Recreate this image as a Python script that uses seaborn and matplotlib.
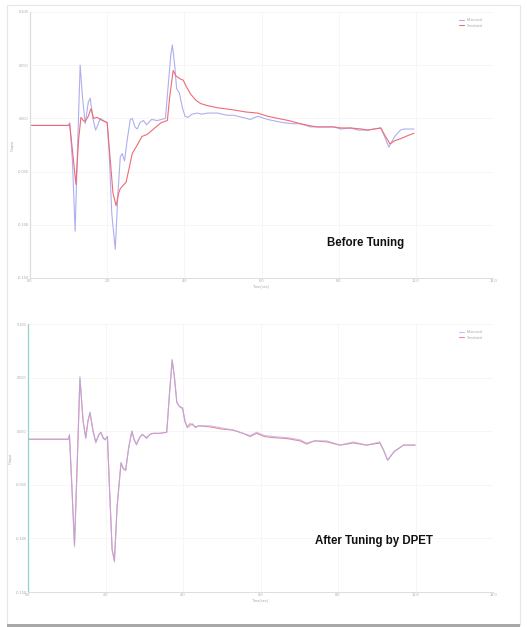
import pandas as pd
import matplotlib
matplotlib.use("Agg")
import matplotlib.pyplot as plt
import seaborn as sns
from matplotlib.patches import Rectangle

sns.set_style("whitegrid")
plt.rcParams['font.family'] = ['Liberation Sans', 'DejaVu Sans']

# Before tuning: measured output
t_before_meas = [0.0, 0.99, 1.03, 1.10, 1.17, 1.23, 1.30, 1.36, 1.43, 1.51, 1.56, 1.63, 1.70, 1.76,
                 1.82, 1.90, 2.00, 2.05, 2.12, 2.21, 2.28, 2.34, 2.39, 2.45, 2.52, 2.60, 2.65, 2.72,
                 2.78, 2.85, 2.94, 3.02, 3.15, 3.30, 3.51, 3.58, 3.65, 3.69, 3.75, 3.80, 3.87, 3.95,
                 4.02, 4.10, 4.20, 4.34, 4.45, 4.60, 4.86, 5.10, 5.27, 5.50, 5.71, 5.90, 6.16, 6.42,
                 6.57, 6.80, 7.01, 7.27, 7.50, 7.87, 8.05, 8.31, 8.50, 8.75, 9.09, 9.20, 9.30, 9.45,
                 9.60, 9.69, 9.95]
y_before_meas = [-0.0066, -0.0066, -0.004, -0.04, -0.106, -0.03, 0.050, 0.02, -0.005, 0.015, 0.019,
                 0.0, -0.011, -0.006, 0.0, -0.002, -0.004, -0.03, -0.09, -0.123, -0.07, -0.036,
                 -0.033, -0.04, -0.02, -0.001, 0.0, -0.008, -0.010, -0.004, -0.002, -0.006, -0.001,
                 -0.002, 0.0, 0.03, 0.06, 0.069, 0.05, 0.028, 0.024, 0.010, 0.002, 0.001, 0.004,
                 0.005, 0.004, 0.005, 0.005, 0.003, 0.003, 0.001, -0.001, 0.002, -0.001, -0.003,
                 -0.004, -0.005, -0.005, -0.008, -0.008, -0.008, -0.010, -0.009, -0.011, -0.011,
                 -0.009, -0.018, -0.027, -0.017, -0.011, -0.010, -0.010]

# Before tuning: simulated output
t_before_sim = [0.0, 0.99, 1.03, 1.10, 1.19, 1.26, 1.32, 1.38, 1.43, 1.51, 1.58, 1.65, 1.74, 1.82,
                2.00, 2.06, 2.15, 2.23, 2.30, 2.34, 2.49, 2.58, 2.65, 2.78, 2.90, 3.04, 3.20, 3.40,
                3.56, 3.62, 3.71, 3.78, 3.90, 3.97, 4.05, 4.16, 4.30, 4.42, 4.60, 4.86, 5.27, 5.60,
                5.90, 6.16, 6.42, 6.70, 7.01, 7.27, 7.45, 7.87, 8.05, 8.31, 8.60, 8.75, 9.09, 9.20,
                9.33, 9.45, 9.61, 9.80, 9.95]
y_before_sim = [-0.0066, -0.0066, -0.006, -0.03, -0.062, -0.02, 0.001, -0.002, -0.003, 0.002, 0.009,
                0.0, 0.001, -0.001, -0.004, -0.03, -0.07, -0.082, -0.07, -0.066, -0.06, -0.045,
                -0.033, -0.025, -0.017, -0.015, -0.010, -0.004, -0.002, 0.02, 0.045, 0.040, 0.037,
                0.036, 0.030, 0.023, 0.017, 0.014, 0.012, 0.010, 0.008, 0.006, 0.005, 0.002, 0.0,
                -0.002, -0.005, -0.007, -0.008, -0.008, -0.009, -0.009, -0.010, -0.011, -0.009,
                -0.016, -0.024, -0.021, -0.019, -0.016, -0.014]

# After tuning by DPET
t_after = [0.0, 1.04, 1.07, 1.13, 1.20, 1.27, 1.34, 1.42, 1.49, 1.55, 1.60, 1.68, 1.75, 1.82, 1.88,
           1.94, 1.99, 2.05, 2.10, 2.17, 2.23, 2.30, 2.40, 2.46, 2.52, 2.60, 2.68, 2.74, 2.80, 2.88,
           2.95, 3.06, 3.15, 3.23, 3.40, 3.58, 3.65, 3.72, 3.78, 3.84, 3.91, 3.99, 4.05, 4.11, 4.18,
           4.25, 4.32, 4.40, 4.70, 5.00, 5.30, 5.55, 5.73, 5.90, 6.10, 6.33, 6.70, 7.02, 7.19, 7.40,
           7.71, 8.05, 8.40, 8.74, 9.08, 9.18, 9.28, 9.45, 9.69, 9.99]
y_after_meas = [-0.0075, -0.0075, -0.003, -0.05, -0.108, -0.03, 0.051, 0.01, -0.007, 0.01, 0.018,
                0.0, -0.011, -0.004, -0.001, -0.007, -0.008, -0.005, -0.05, -0.11, -0.122, -0.07,
                -0.029, -0.035, -0.037, -0.015, 0.0, -0.008, -0.013, -0.006, -0.003, -0.007,
                -0.003, -0.002, -0.002, -0.001, 0.035, 0.067, 0.05, 0.027, 0.023, 0.022, 0.010,
                0.003, 0.005, 0.007, 0.003, 0.005, 0.005, 0.003, 0.001, -0.002, -0.004, -0.001,
                -0.004, -0.005, -0.006, -0.008, -0.011, -0.009, -0.009, -0.013, -0.010, -0.013,
                -0.010, -0.018, -0.027, -0.019, -0.013, -0.013]
y_after_sim = [-0.0075, -0.0075, -0.004, -0.05, -0.106, -0.03, 0.049, 0.01, -0.006, 0.01, 0.017,
               0.0, -0.010, -0.004, -0.001, -0.006, -0.008, -0.005, -0.05, -0.11, -0.121, -0.07,
               -0.030, -0.035, -0.036, -0.015, 0.0, -0.008, -0.012, -0.006, -0.003, -0.006,
               -0.003, -0.002, -0.002, -0.001, 0.034, 0.066, 0.05, 0.027, 0.023, 0.021, 0.009,
               0.004, 0.007, 0.006, 0.004, 0.005, 0.004, 0.002, 0.001, -0.002, -0.005, -0.002,
               -0.005, -0.006, -0.007, -0.009, -0.012, -0.009, -0.010, -0.013, -0.011, -0.013,
               -0.011, -0.018, -0.027, -0.019, -0.013, -0.013]

x_ticks = [0, 2, 4, 6, 8, 10, 12]
x_tick_labels = ["0.0", "2.0", "4.0", "6.0", "8.0", "10.0", "12.0"]
y_ticks = [-0.15, -0.10, -0.05, 0.0, 0.05, 0.10]
y_tick_labels = ["-0.150", "-0.100", "-0.050", "0.000", "0.050", "0.100"]

blue = "#aeaef0"
red = "#f06a74"

fig = plt.figure(figsize=(5.27, 6.27), dpi=100)

# slide frame with a soft shadow at the bottom
fig.patches.append(Rectangle((7 / 527, 1 - 625 / 627), 513 / 527, 620 / 627, transform=fig.transFigure,
                             fill=False, edgecolor="#e6e6e6", linewidth=0.8))
fig.patches.append(Rectangle((7 / 527, 1 - 627 / 627), 513 / 527, 3 / 627, transform=fig.transFigure,
                             color="#a8a8a8", linewidth=0))

ax1 = fig.add_axes([30 / 527, 1 - 278 / 627, 463 / 527, 266 / 627])
ax2 = fig.add_axes([28 / 527, 1 - 592 / 627, 465 / 527, 268 / 627])


def style_axes(ax, left_color):
    ax.set_xlim(0, 12)
    ax.set_ylim(-0.15, 0.10)
    ax.set_xticks(x_ticks)
    ax.set_xticklabels(x_tick_labels)
    ax.set_yticks(y_ticks)
    ax.set_yticklabels(y_tick_labels)
    ax.tick_params(labelsize=2.8, colors="#aaaaaa", length=0, pad=1)
    ax.grid(True, color="#f5f5f5", linewidth=0.6)
    for side in ["top", "right"]:
        ax.spines[side].set_visible(False)
    ax.spines["bottom"].set_color("#dddddd")
    ax.spines["left"].set_color(left_color)
    ax.spines["bottom"].set_linewidth(0.7)
    ax.spines["left"].set_linewidth(0.9)
    ax.set_xlabel("Time(sec)", fontsize=2.8, color="#aaaaaa", labelpad=1)
    ax.set_ylabel("Output", fontsize=2.8, color="#aaaaaa", labelpad=2)
    leg = ax.legend(loc="upper right", fontsize=2.5, frameon=False, handlelength=1.5,
                    bbox_to_anchor=(0.985, 0.99))
    for txt in leg.get_texts():
        txt.set_color("#aaaaaa")


sns.lineplot(x=t_before_meas, y=y_before_meas, ax=ax1, color=blue, linewidth=0.8, label="Measured")
sns.lineplot(x=t_before_sim, y=y_before_sim, ax=ax1, color=red, linewidth=0.8, label="Simulated")
style_axes(ax1, "#dddddd")
ax1.text(0.725, 0.13, "Before Tuning", transform=ax1.transAxes, fontsize=8.3,
         fontweight="bold", ha="center", va="center", color="#111111")

sns.lineplot(x=t_after, y=y_after_meas, ax=ax2, color=blue, linewidth=0.8, alpha=0.75,
             label="Measured", zorder=3)
sns.lineplot(x=t_after, y=y_after_sim, ax=ax2, color=red, linewidth=0.8, alpha=0.8,
             label="Simulated", zorder=2)
style_axes(ax2, "#8fd6c8")
ax2.text(0.745, 0.19, "After Tuning by DPET", transform=ax2.transAxes, fontsize=8.3,
         fontweight="bold", ha="center", va="center", color="#111111")

fig.savefig("out.png", dpi=100)
